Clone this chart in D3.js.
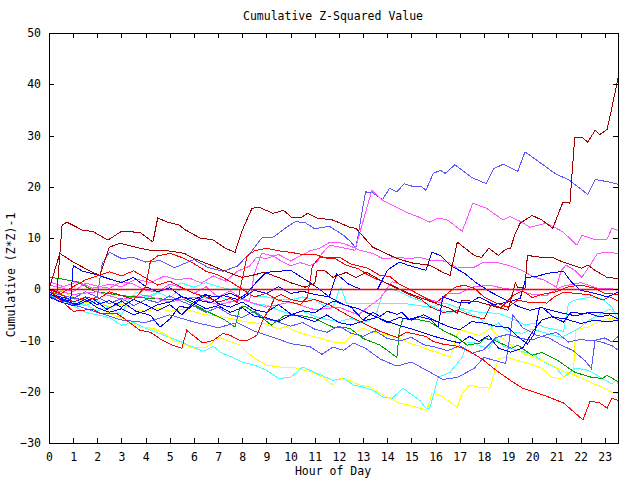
<!DOCTYPE html>
<html><head><meta charset="utf-8">
<script src="https://cdn.jsdelivr.net/npm/d3@7"></script>
<style>
body{margin:0;background:#fff;}
svg{display:block;}
text{font-family:"DejaVu Sans Mono","Liberation Mono",monospace;font-size:11.5px;fill:#000;}
</style></head><body>
<svg id="c" width="640" height="480"></svg>
<script>
// ---- data: [hour, cumulative value] ----
const title = "Cumulative Z-Squared Value";
const xLabel = "Hour of Day";
const yLabel = "Cumulative (Z*Z)-1";
const xTicks = d3.range(0, 24);
const yTicks = [-30, -20, -10, 0, 10, 20, 30, 40, 50];

const darkRedA = [[0,0],[0.33,-0.5],[0.54,12.5],[0.74,13.1],[1.4,11.5],[1.8,11.3],[2.44,9.6],[3.0,11.3],[3.76,11.1],[4.3,9.2],[4.5,13.9],[4.9,13.1],[5.4,12.5],[5.6,11.7],[6.25,10],[6.8,9.6],[7.3,8],[7.7,7.2],[8.0,11.5],[8.4,15.8],[8.7,16],[9.27,14.8],[9.7,15.4],[10.05,14],[10.4,13.9],[10.7,14.8],[11.1,13.9],[11.75,13.5],[12.45,12.1],[12.7,11.9],[13.4,8.2],[14.4,6],[15.06,5.1],[15.76,4.7],[16.3,3.3],[16.6,2.7],[16.9,9.2],[17.6,6.6],[17.9,6.2],[18.2,8],[18.6,6.6],[18.9,7.8],[19.1,8],[19.3,10.9],[19.5,12.9],[19.7,13.5],[20.0,14.4],[20.4,13.5],[20.85,11.9],[21.27,17],[21.56,16.8],[21.76,29.7],[22.05,29.7],[22.3,28.7],[22.6,31],[22.8,30.2],[23.1,31.2],[23.3,35.5],[23.55,41.2]];
const darkRedB = [[0,0],[0.45,7],[1.0,5.3],[1.4,4.3],[1.8,3.3],[2.1,2.7],[2.5,8.2],[2.94,9],[3.76,8],[4.2,7.6],[4.8,7.6],[5.6,7],[6.0,6],[6.7,4.7],[7.4,3.3],[8.0,2.3],[8.4,2.7],[8.9,3.3],[9.5,2.3],[10.05,1.2],[10.6,0.4],[11.0,1.2],[11.1,3.7],[11.4,3.7],[11.75,2.3],[12.3,3.3],[12.7,2.3],[13.15,3.3],[13.7,1.8],[14.4,0.2],[14.9,-0.8],[15.35,-1.6],[16.2,-3.1],[16.6,-3.7],[16.9,-4.7],[17.1,-2.1],[17.8,-2.5],[19.0,-4.1],[19.3,1.2],[19.4,0.4],[19.7,0.2],[19.8,6.6],[20.4,6.2],[20.85,6.2],[21.27,5.3],[22.05,4.1],[22.3,4.7],[22.6,3.7],[23.1,2.3],[23.55,2.1]];
const red1 = [[0,0],[0.45,-2],[1.0,-4.3],[1.8,-3.9],[2.1,-4.7],[2.8,-4.7],[3.2,-6],[3.76,-8],[4.2,-8.4],[4.7,-10],[5.1,-10.9],[5.5,-11.5],[5.7,-8],[5.96,-9],[6.37,-10.5],[6.8,-10],[7.2,-8.6],[7.5,-9],[7.9,-10],[8.2,-10],[8.6,-9],[8.85,-6],[9.14,-3.7],[9.35,-1.6],[9.6,-1],[10.0,-2],[10.5,-2.5],[11.0,-2],[11.63,-3.1],[12.45,-5.3],[13.7,-8.2],[14.4,-9.4],[14.8,-8.4],[15.2,-8.8],[15.6,-9.2],[15.9,-10.2],[16.3,-10.7],[16.9,-11.1],[17.4,-12.1],[17.95,-13.7],[18.5,-15.8],[19.1,-17.8],[19.6,-19.3],[20.5,-20.7],[21.3,-22.2],[22.1,-25.5],[22.4,-21.8],[22.8,-22.2],[23.1,-23.2],[23.3,-21.3],[23.55,-21.7]];
const red2 = [[0,0],[0.5,-0.8],[1,0.5],[1.5,1.8],[2,2.6],[2.5,3.4],[3,2.6],[3.5,3.6],[4,2.2],[4.5,0.8],[5,1.6],[5.5,0.3],[6,-0.8],[6.5,-1.5],[7,-2.5],[7.5,-1.8],[7.8,-2.6],[8.0,2],[8.2,6.5],[8.5,7.5],[9,8],[9.5,7.5],[10,7.2],[10.5,6.8],[11,6.8],[11.6,5.9],[12,6.3],[12.5,4.9],[13.2,4.1],[13.7,2.7],[14.1,2.5],[14.5,1],[15.0,-0.2],[15.5,-1.5],[16,-2.7],[16.5,-0.8],[16.8,0.4],[17.2,0.8],[17.6,0.2],[18.0,-1.5],[18.5,-2.7],[19,-3.5],[19.4,-2.1],[19.8,-2.5],[20.4,-2.5],[20.6,-2.7],[20.9,-1.5],[21.3,-0.6],[21.8,-0.8],[22.4,-1.1],[22.9,-2.1],[23.2,-1.5],[23.55,-2.3]];
const red3 = [[0,0],[0.5,-1],[1,-2.5],[1.5,-1.5],[2,-2],[2.5,-0.5],[3,-1.2],[3.5,-2],[4,0.5],[4.2,5.5],[4.5,6.5],[5,7],[5.5,6.2],[6,5],[6.5,3.5],[7,2.8],[7.5,1.5],[8,0],[8.5,-1.5],[9,-0.8],[9.5,-2.2],[10,-2.5],[10.4,-3],[10.7,-1.5],[10.9,4.5],[11.2,6.3],[11.8,6.1],[12.3,4.7],[12.8,4],[13.3,2.5],[13.8,1.5],[14.3,0.6],[14.8,-0.8],[15.4,-2],[15.8,-3.5],[16.3,-4.5],[16.9,-4.2],[17.5,-5.2],[18,-5.8],[18.3,-3],[18.7,-3.6],[19.2,-1.2],[19.6,-0.3],[20.0,-1.6],[20.5,-0.9],[21,-0.5],[21.5,0.5],[22,0.8],[22.6,0.2],[23,-0.8],[23.55,-1]];
const blue1 = [[0,-1],[0.5,-1.5],[0.9,-2],[1.0,4.6],[1.4,3.5],[2.0,2.8],[2.5,2],[3.0,1.3],[3.5,2.3],[4.0,0.5],[4.5,-0.5],[5.0,0.3],[5.5,-1.5],[6.0,-2],[6.5,-1],[7.0,-2.8],[7.5,-3.5],[8.0,-2.5],[8.5,-4],[9.0,-4.5],[9.5,-3],[10.0,-4.8],[10.5,-5.5],[11.0,-6.3],[11.5,-5],[12.0,-6.5],[12.5,-7],[13.0,-6.2],[13.6,-5.5],[14.0,-6.5],[14.5,-5.5],[15,-6],[15.5,-5],[16,-6.2],[16.6,-7.4],[17,-7.9],[17.5,-6.3],[18,-6.6],[18.5,-7.2],[19,-7.5],[19.4,-9.2],[19.8,-10.7],[20.1,-8.6],[20.3,-3.5],[20.7,-4],[21.2,-4.6],[21.8,-5.2],[22.3,-4.6],[22.8,-5.4],[23.2,-5],[23.55,-5.8]];
const blue2 = [[0,-0.5],[0.5,-1.8],[1,-2.5],[1.5,-1.6],[2,-3],[2.5,-2.2],[3,-3.5],[3.5,-2],[4,-3],[4.5,-4.2],[5,-3],[5.5,-5],[6,-2.5],[6.5,-1.2],[7,-1.5],[7.5,-0.8],[8,-1.8],[8.5,-0.2],[9,-0.8],[9.5,0.5],[10,-0.8],[10.5,-0.4],[11.0,-1],[11.6,-1.5],[11.9,3],[12.4,1],[12.9,0],[13.6,0],[14.0,3.7],[14.5,5.3],[14.85,4.7],[15.6,3.7],[15.85,7.2],[16.2,6.6],[16.6,4.7],[17.2,3.1],[17.7,1.2],[18.3,-0.6],[19,-2.3],[19.4,-3.3],[19.9,-4.1],[20.4,-3.5],[20.9,-5.5],[21.3,-6.4],[21.6,-4.5],[22.05,-4.7],[22.6,-4.5],[23.1,-4.7],[23.55,-4.7]];
const blue3 = [[0,-1.5],[0.5,-2.5],[1,-3.2],[1.5,-2],[2,-3.6],[2.5,-4.5],[3,-3.8],[3.5,-5],[4,-4.2],[4.5,-3],[5,-2.5],[5.5,-1.4],[6,-2.6],[6.5,-3.8],[7,-3.2],[7.5,-4.5],[8,-3.6],[8.5,-5.3],[9,-5.6],[9.5,-6.3],[10,-5],[10.5,-4.2],[11,-4.6],[11.5,-3],[11.8,-2.3],[12.5,-3.5],[13,-6],[13.4,-4.5],[13.7,-5.3],[14,-4.3],[14.4,-4.9],[14.6,-4.5],[14.9,-5.9],[15.3,-5.3],[15.8,-5.9],[16.1,-7.4],[16.3,-1.5],[16.9,-2.5],[17.4,-2.7],[17.8,-1.5],[18.4,-3],[19,-2.5],[19.5,-1.8],[19.75,2.3],[20.2,2.5],[20.6,3.1],[21.3,3.5],[21.6,1.5],[22,-0.2],[22.6,-0.8],[23.1,-1.5],[23.55,-0.6]];
const blue4 = [[0,-0.8],[0.6,-2.2],[1.2,-3],[1.8,-1.8],[2.4,-3.9],[3,-2.3],[3.6,-4.3],[4.2,-5.1],[4.6,-7.4],[5,-5.8],[5.4,-3.3],[5.8,-3.7],[6.2,-2.2],[6.7,-2.6],[7.2,-1.2],[7.8,-2],[8.2,-0.8],[8.6,1.5],[9,3.3],[9.5,3.5],[10,3.7],[10.4,2.5],[10.8,1.3],[11.2,0],[11.6,-1.5],[12.2,-3],[12.8,-3.8],[13.4,-5.1],[14,-6.3],[14.6,-7.2],[15.2,-8],[15.8,-9],[16.4,-9.8],[17,-10.5],[17.4,-9.2],[17.8,-10.2],[18.2,-9],[18.6,-11.5],[19.1,-12.3],[19.6,-11.5],[20,-8.4],[20.4,-6],[20.8,-5.4],[21.4,-5.8],[22,-6.7],[22.6,-6],[23.1,-6.4],[23.55,-6]];
const slate1 = [[0,-0.5],[0.8,-1.5],[1.6,-2.2],[2.0,-1.5],[2.2,5],[2.5,7.2],[3.0,6],[3.5,6.2],[4.0,5.3],[4.6,5.6],[5.2,4.2],[6.0,5.8],[6.6,4.2],[7.2,3.5],[7.8,4.5],[8.4,7.5],[8.8,10],[9.3,10.2],[9.8,12],[10.2,13.2],[10.6,13],[11.0,11.8],[11.6,12.3],[12.2,10.5],[12.5,9.2],[12.7,8],[13.1,19],[13.4,18.8],[13.8,17.5],[14.1,19.7],[14.4,19],[14.7,20.6],[15.1,20],[15.4,20.1],[15.6,19.3],[15.9,22.6],[16.2,23.2],[16.4,22.6],[16.8,24.3],[17.5,21.8],[18.1,20.6],[18.4,23.5],[18.8,24.4],[19.4,23],[19.7,26.8],[20.3,24.8],[21.0,22.4],[21.5,21.4],[22.3,18.5],[22.6,21.4],[23.1,21],[23.55,20.5]];
const slate2 = [[0,-1],[1,-3],[2,-4.5],[3,-6],[4,-6.5],[5,-5],[6,-6.4],[7,-7.5],[7.8,-6.5],[8.5,-8.2],[9.3,-9.4],[10,-10.6],[10.8,-11.2],[11.3,-12.7],[11.75,-11.3],[12.2,-11.9],[12.6,-10.5],[13.1,-11.5],[13.7,-13.6],[14.4,-15],[15,-14.2],[15.7,-16],[16.3,-17.6],[16.9,-17.2],[17.3,-16.2],[17.6,-15.4],[18,-13.3],[18.45,-13.9],[18.9,-14.5],[19.0,-11.5],[19.2,-5],[19.6,-7.5],[20.2,-9],[20.7,-9.5],[21.2,-10.9],[21.7,-12],[22.2,-14],[22.45,-15.5],[22.6,-10],[23,-10.5],[23.3,-11],[23.55,-11.9]];
const slate3 = [[0,-1.2],[0.5,-2.5],[1,-1.8],[1.5,-0.5],[2,-1.5],[2.5,-2.8],[3,-1.8],[3.5,-3.2],[4,-2],[4.5,-2.6],[5,-1.3],[5.5,-2.4],[6,-3.3],[6.5,-4.5],[7,-3.5],[7.5,-5],[8,-5.5],[8.5,-4.3],[9,-5.8],[9.5,-6.4],[10,-7.2],[10.5,-6.5],[11,-7.8],[11.5,-8.4],[12,-7.2],[12.5,-8.6],[13,-9.2],[13.5,-8.1],[14,-9.6],[14.5,-10.1],[15,-9.4],[15.5,-10.8],[16,-11.3],[16.5,-12],[17,-11],[17.5,-12.5],[18,-11.8],[18.5,-9.4],[19,-8.8],[19.5,-9.6],[20,-9.9],[20.5,-9],[21,-8.4],[21.5,-10.3],[22,-9.8],[22.5,-10.1],[23,-9.5],[23.3,-10.3],[23.55,-9.2]];
const magenta1 = [[0,0.8],[0.5,0.3],[1,-0.5],[1.5,1.2],[2,0.6],[2.5,0.2],[3,1.5],[3.5,1],[4,-0.2],[4.5,-0.5],[5,1],[5.5,0.3],[6,-0.8],[6.5,0.5],[7,-1.5],[7.5,-0.3],[8,-1.8],[8.3,-2.3],[8.5,3],[8.8,7],[9.3,6.5],[9.6,5.5],[10,4.6],[10.4,5.2],[10.8,4.6],[11.1,5.3],[11.3,7],[11.63,8.6],[12.66,7.6],[13.36,19.3],[13.8,17.4],[14.8,15],[15.35,14],[15.76,13.1],[16.1,13.9],[16.5,13.5],[17.1,11.3],[17.54,16.8],[18.1,15.8],[18.8,13.5],[19.07,14.2],[19.57,13.1],[19.9,12.1],[20.6,12.9],[21.27,11.2],[21.85,8.6],[22.05,10.5],[22.67,9.6],[23.1,9.8],[23.3,11.9],[23.55,11.5]];
const magenta2 = [[0,1.5],[0.6,0.5],[1.2,1.5],[1.8,0.2],[2.5,1],[3,0.5],[3.6,2],[4.2,1.3],[4.8,2.6],[5.3,1.8],[5.8,2.2],[6.3,1.2],[6.8,2.6],[7.3,1.6],[7.8,3.5],[8.3,4.5],[8.6,6.3],[9.0,6],[9.5,6.8],[10,5.5],[10.4,6.5],[10.8,7.5],[11.2,8],[11.63,9.2],[12.16,9],[12.58,8.2],[12.87,7.6],[13.4,7],[13.8,6],[14.5,6.2],[14.9,6],[15.35,6.2],[15.76,5.7],[16.2,5.7],[16.6,5.1],[16.9,4.1],[17.1,4.3],[17.6,4.3],[18.0,5.3],[18.45,5.3],[19.0,4.7],[19.57,3.7],[20.1,2.3],[20.5,1.8],[21.0,0.4],[21.2,3.7],[21.4,4.7],[21.76,3.7],[22.05,2.3],[22.4,4.7],[22.7,7],[23.1,7.2],[23.55,7]];
const magenta3 = [[0,0],[1,-1],[2,-0.5],[3,-2],[4,-1.2],[5,-2.5],[6,-1.5],[7,-3],[8,-2],[9,-3.5],[10,-2.5],[11,-4],[12,-3.5],[12.8,-5],[13.2,-3.5],[13.7,-1.8],[14.2,1.5],[14.6,0.8],[15.1,-0.5],[15.6,-1.8],[16.2,-2.6],[16.5,-0.8],[17.0,-0.8],[17.5,0.4],[18.2,0.8],[18.8,0.2],[19.4,-0.2],[20.0,-1],[20.6,-1.2],[21.2,0.5],[22.0,1.3],[22.7,0.2],[23.55,0]];
const cyan1 = [[0,0],[0.5,-2],[1,-3.2],[1.5,-4.5],[2,-5],[2.5,-5.5],[3,-7],[3.5,-6.5],[4,-7.6],[4.5,-8.5],[5,-9.4],[5.6,-10.5],[6,-11.4],[6.4,-12.1],[6.8,-11.1],[7.1,-12.3],[7.6,-13.3],[8,-14.2],[8.5,-14.8],[9,-15.8],[9.5,-17.4],[10,-17.2],[10.5,-15.2],[11,-16.2],[11.75,-17.8],[12.2,-17.4],[12.6,-18.7],[13,-19.1],[13.4,-19.7],[13.8,-21],[14.2,-21.3],[14.65,-19.3],[15.06,-20.7],[15.35,-21.7],[15.6,-23.2],[15.76,-23.2],[15.85,-21.7],[16.1,-17.2],[16.6,-16.2],[17.1,-13.3],[17.3,-10.5],[17.55,-10.3],[17.8,-11],[18.2,-11.5],[18.5,-9.6],[18.8,-11.1],[19.3,-11.8],[20,-12.7],[20.5,-14.2],[21,-15.4],[21.3,-17.1],[21.8,-15.4],[22.3,-15.8],[22.8,-17.1],[23.3,-18.5],[23.45,-17.8],[23.55,-18.4]];
const cyan2 = [[0,-0.5],[0.5,-1.5],[1,-2.5],[1.5,-3.2],[2,-2.2],[2.5,-3.7],[3,-2.5],[3.5,-1.2],[4,-1.8],[4.5,-0.8],[5,0.5],[5.5,1.2],[6,0.4],[6.5,1.3],[7,0.5],[7.5,0],[8,0.4],[8.4,-1.3],[9,-1.5],[9.5,-2],[10,-2.1],[10.5,-1.5],[11,-2.1],[11.4,-3.3],[11.75,-3.6],[12,-0.2],[12.1,0.2],[12.3,-2.7],[13.4,-2.7],[14.6,-2.7],[15.8,-3.5],[16.4,-2.7],[17,-3.7],[17.8,-4.5],[18.6,-4.7],[19.3,-6],[19.7,-7],[20.1,-6.6],[20.5,-7.4],[21.3,-8.2],[21.5,-2.7],[21.8,-2.1],[22.4,-1.5],[22.9,-1.9],[23.3,-3.5],[23.55,-6]];
const cyan3 = [[0,-1],[0.5,-2.5],[1,-1.8],[1.5,-3],[2,-4.2],[2.5,-3.5],[3,-5],[3.3,-2],[3.6,-0.5],[4,-1.5],[4.5,-0.6],[5,-1.6],[5.5,0.2],[6,-0.6],[6.5,-1.8],[7,-1.2],[7.5,-2.5],[8,-2],[8.5,-2.9],[9,-3.1],[9.5,-4.1],[10,-4.9],[10.5,-4.3],[11,-5.3],[11.5,-5.9],[12,-6.3],[12.5,-5.7],[13,-6.6],[13.5,-5.5],[13.8,-1],[14.1,0.2],[14.5,-0.5],[15,-1.6],[15.5,-2.5],[16,-3.6],[16.5,-4.7],[17,-3.9],[17.5,-4.9],[18,-6.2],[18.3,-7.4],[18.6,-6.6],[19,-8.2],[19.6,-8.6],[20,-7.8],[20.6,-8.6],[21.2,-9.4],[21.6,-8.5],[22,-7.4],[22.3,-6.2],[22.8,-4.9],[23.2,-3.9],[23.55,-5]];
const yellow1 = [[0,0],[0.17,0.8],[1.0,-1.6],[1.7,-2.7],[2.4,-4.5],[3.2,-6],[3.76,-7.4],[4.3,-7.6],[4.9,-9],[5.1,-10],[5.7,-10.9],[5.96,-11.5],[6.5,-11.3],[7.07,-9.4],[7.36,-10],[7.9,-10.9],[8.44,-13.3],[9.0,-14.8],[9.56,-15.2],[10.1,-15.2],[10.6,-15.8],[11.0,-16.4],[11.4,-17.4],[11.75,-18.7],[12.04,-17.4],[12.45,-17.8],[12.87,-18.7],[13.3,-19.1],[13.7,-20.3],[14.1,-21.3],[14.5,-22.2],[14.9,-22.6],[15.35,-23.2],[15.64,-23.6],[15.85,-20.3],[16.2,-20.7],[16.6,-22],[16.9,-23],[17.1,-20.3],[17.4,-18.7],[17.8,-19.1],[18.25,-19.3],[18.6,-13.5],[19.0,-13.3],[19.4,-13.9],[19.8,-14.4],[20.4,-15.4],[20.8,-17.2],[21.2,-17.4],[21.6,-16.4],[22.05,-17.4],[22.47,-18.3],[22.9,-19.1],[23.3,-20.1],[23.55,-20.3]];
const yellow2 = [[0,-0.5],[0.5,-1],[1,-1.8],[1.5,-2.6],[2,-2.3],[2.5,-3.5],[3,-2.9],[3.5,-3.9],[4,-4.3],[4.5,-3.7],[5,-4.3],[5.6,-3.9],[6.4,-4.9],[7.3,-5.5],[8.2,-6.4],[9,-6.8],[9.5,-7.8],[9.8,-7.2],[10.2,-8.2],[10.9,-9.2],[11.4,-9.8],[11.75,-10.3],[12.2,-10.5],[12.6,-8.6],[13,-7.6],[13.4,-8.4],[14.1,-9],[14.5,-9.6],[14.9,-10.5],[15.35,-11.1],[15.76,-11.9],[16.2,-12.5],[16.6,-13.3],[16.75,-11.3],[16.9,-8.6],[17.1,-8],[17.5,-8.6],[17.8,-9],[18.3,-7.6],[18.45,-8.6],[18.9,-10],[19.15,-11.1],[19.7,-12.7],[20.3,-13.7],[20.7,-14.6],[21.1,-15.6],[21.4,-16.2],[21.7,-16.6],[21.8,-7.8],[22.3,-7.4],[22.7,-6.4],[23.1,-5.8],[23.55,-5.8]];
const green1 = [[0,2.3],[0.45,2.1],[1.16,1.4],[1.9,-0.4],[2.94,-1.2],[4.18,-1.8],[5.63,-2.1],[6.45,-4.1],[7.28,-6],[7.7,-7.4],[7.9,-3.5],[8.1,-3.3],[8.8,-5.5],[9.2,-7],[9.76,-5.1],[10.4,-5.1],[11.0,-5.7],[11.75,-7.4],[12.45,-7.6],[13.0,-9.6],[13.7,-10.9],[14.4,-13.3],[14.5,-8],[14.65,-5.7],[15.35,-6],[15.76,-6.4],[16.3,-8],[16.9,-9.4],[17.3,-10.9],[17.83,-10.5],[18.04,-9.6],[18.45,-10],[19.15,-11.5],[19.4,-10.9],[20.0,-12.9],[20.4,-12.3],[21.06,-13.9],[21.76,-16.2],[22.47,-17.2],[22.9,-17.4],[23.1,-16.8],[23.55,-18]];

const seriesList = [
  {data: cyan1, color: "#44ffff"},
  {data: yellow1, color: "#ffff00"},
  {data: yellow2, color: "#ffff00"},
  {data: cyan2, color: "#44ffff"},
  {data: cyan3, color: "#44ffff"},
  {data: green1, color: "#00a000"},
  {data: slate2, color: "#5a5aff"},
  {data: slate3, color: "#5a5aff"},
  {data: slate1, color: "#5a5aff"},
  {data: magenta3, color: "#ff55ff"},
  {data: magenta2, color: "#ff55ff"},
  {data: magenta1, color: "#ff55ff"},
  {data: blue4, color: "#0000ff"},
  {data: blue3, color: "#0000ff"},
  {data: blue2, color: "#0000ff"},
  {data: blue1, color: "#0000ff"},
  {data: red3, color: "#ff0000"},
  {data: red2, color: "#ff0000"},
  {data: red1, color: "#ff0000"},
  {data: darkRedB, color: "#a00000"},
  {data: darkRedA, color: "#a00000"}
];

// ---- layout ----
const L = 49, R = 618, T = 33, B = 443;
const x = d3.scaleLinear().domain([0, 23.55]).range([L, R]);
const y = d3.scaleLinear().domain([-30, 50]).range([B, T]);
const svg = d3.select("#c");

const clip = svg.append("clipPath").attr("id","pc").append("rect")
  .attr("x", L).attr("y", T).attr("width", R - L).attr("height", B - T);

const line = d3.line().x(d => x(d[0])).y(d => y(d[1]));
const g = svg.append("g").attr("clip-path", "url(#pc)");
seriesList.forEach(s => {
  g.append("path").attr("d", line(s.data)).attr("fill", "none")
    .attr("stroke", s.color).attr("stroke-width", 1)
    .attr("shape-rendering", "crispEdges");
});
// zero reference line
g.append("line").attr("x1", L).attr("x2", R).attr("y1", Math.round(y(0)) + 0.5).attr("y2", Math.round(y(0)) + 0.5)
  .attr("stroke", "#ff0000").attr("stroke-width", 1.3);

// ---- axes ----
function styleAxis(sel, noText) {
  sel.select(".domain").remove();
  sel.selectAll(".tick line").attr("stroke", "#000").attr("shape-rendering", "crispEdges");
  if (noText) sel.selectAll(".tick text").remove();
  else sel.selectAll(".tick text").attr("font-family", "DejaVu Sans Mono").attr("font-size", "11.5px").attr("fill", "#000");
}
svg.append("g").attr("transform", `translate(0,${B})`)
  .call(d3.axisBottom(x).tickValues(xTicks).tickSize(-5).tickPadding(10).tickFormat(d3.format("d")))
  .call(s => styleAxis(s, false));
svg.append("g").attr("transform", `translate(0,${T})`)
  .call(d3.axisTop(x).tickValues(xTicks).tickSize(-5))
  .call(s => styleAxis(s, true));
svg.append("g").attr("transform", `translate(${L},0)`)
  .call(d3.axisLeft(y).tickValues(yTicks).tickSize(-5).tickPadding(8).tickFormat(d3.format("d")))
  .call(s => styleAxis(s, false));
svg.append("g").attr("transform", `translate(${R},0)`)
  .call(d3.axisRight(y).tickValues(yTicks).tickSize(-5))
  .call(s => styleAxis(s, true));

svg.append("rect").attr("x", L + 0.5).attr("y", T + 0.5).attr("width", R - L).attr("height", B - T)
  .attr("fill", "none").attr("stroke", "#000").attr("stroke-width", 1).attr("shape-rendering", "crispEdges");

// ---- texts ----
svg.append("text").attr("x", 333).attr("y", 20).attr("text-anchor", "middle").text(title);
svg.append("text").attr("x", 333).attr("y", 475).attr("text-anchor", "middle").text(xLabel);
svg.append("text").attr("transform", "translate(15,275) rotate(-90)").attr("text-anchor", "middle").text(yLabel);
</script>
</body></html>
